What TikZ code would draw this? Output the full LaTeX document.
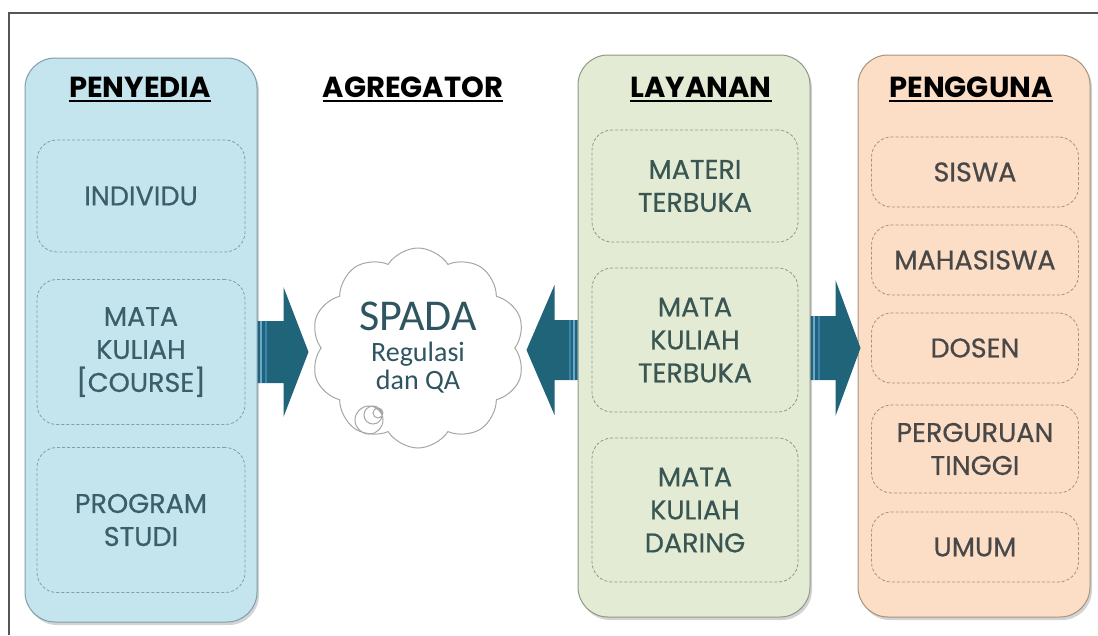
\documentclass[tikz,border=0pt]{standalone}
\usepackage{fontspec}
\setmainfont{Poppins}
\newfontfamily\cloudfont{Carlito}
\usetikzlibrary{shapes.symbols,shadows}
\definecolor{frameline}{HTML}{555555}
\definecolor{bluefill}{HTML}{C5E5EE}
\definecolor{blueline}{HTML}{7E9FAA}
\definecolor{bluetext}{HTML}{3A5F6A}
\definecolor{greenfill}{HTML}{E4EBD5}
\definecolor{greenline}{HTML}{8C9A88}
\definecolor{greentext}{HTML}{3A5652}
\definecolor{peachfill}{HTML}{FCDDC6}
\definecolor{peachline}{HTML}{A8937F}
\definecolor{peachtext}{HTML}{484848}
\definecolor{arrowcol}{HTML}{1F6479}
\definecolor{stripelight}{HTML}{6FA8CF}
\definecolor{stripedark}{HTML}{3C82AE}
\definecolor{cloudtext}{HTML}{2F5561}
\tikzset{
  column/.style = {rounded corners=30pt, minimum width=232pt, line width=1pt,
    drop shadow={opacity=0.35, shadow xshift=2pt, shadow yshift=-3pt}},
  item/.style = {draw=#1, densely dashed, line width=0.8pt, rounded corners=20pt,
    align=center, font=\fontsize{27}{33}\selectfont\addfontfeature{FakeBold=0.6}},
  title/.style = {anchor=base, inner sep=0pt, font=\fontsize{29}{33}\selectfont\bfseries},
  stripe/.style = {line width=2pt}
}

\begin{document}
\begin{tikzpicture}[x=1pt,y=-1pt]
  \useasboundingbox (0,0) rectangle (1098,635);
  \draw[frameline, line width=1.5pt] (9,635) -- (9,13) -- (1098,13);

  \node[column, fill=bluefill, draw=blueline, minimum height=564pt] (penyedia) at (141,340) {};
  \node[column, fill=greenfill, draw=greenline, minimum height=562pt] (layanan) at (694,336) {};
  \node[column, fill=peachfill, draw=peachline, minimum height=562pt] (pengguna) at (974,336) {};

  \node[title] (tpenyedia) at (140,97) {PENYEDIA};
  \node[title] (tagregator) at (413,97) {AGREGATOR};
  \node[title] (tlayanan) at (701,97) {LAYANAN};
  \node[title] (tpengguna) at (971,97) {PENGGUNA};
  \foreach \t in {tpenyedia,tagregator,tlayanan,tpengguna}
    \draw[line width=2pt] ([yshift=-4pt]\t.base west) -- ([yshift=-4pt]\t.base east);

  \node[item=blueline, text=bluetext, minimum width=208pt, minimum height=112pt] (individu) at (141,196) {INDIVIDU};
  \node[item=blueline, text=bluetext, minimum width=208pt, minimum height=145pt] (course) at (141,352) {MATA\\KULIAH\\{[COURSE]}};
  \node[item=blueline, text=bluetext, minimum width=208pt, minimum height=145pt] (prodi) at (141,520) {PROGRAM\\STUDI};

  \node[item=greenline, text=greentext, minimum width=206pt, minimum height=112pt] (materi) at (695,186) {MATERI\\TERBUKA};
  \node[item=greenline, text=greentext, minimum width=206pt, minimum height=144pt] (mkterbuka) at (695,340) {MATA\\KULIAH\\TERBUKA};
  \node[item=greenline, text=greentext, minimum width=206pt, minimum height=144pt] (mkdaring) at (695,510) {MATA\\KULIAH\\DARING};

  \node[item=peachline, text=peachtext, minimum width=207pt, minimum height=70pt] (siswa) at (975,172) {SISWA};
  \node[item=peachline, text=peachtext, minimum width=207pt, minimum height=70pt] (mahasiswa) at (975,260) {MAHASISWA};
  \node[item=peachline, text=peachtext, minimum width=207pt, minimum height=70pt] (dosen) at (975,348) {DOSEN};
  \node[item=peachline, text=peachtext, minimum width=207pt, minimum height=88pt] (pt) at (975,449) {PERGURUAN\\TINGGI};
  \node[item=peachline, text=peachtext, minimum width=207pt, minimum height=70pt] (umum) at (975,547) {UMUM};

  \node[cloud, cloud puffs=10, cloud puff arc=115, aspect=1.1, draw=gray!70, fill=white, line width=1pt,
    minimum width=214pt, minimum height=200pt, text=cloudtext, align=center, inner sep=0pt,
    font=\cloudfont\fontsize{28}{28}\selectfont] (spada) at (418,348)
    {{\fontsize{44}{44}\selectfont SPADA}\\[3pt]Regulasi\\dan QA};
  \draw[gray!70, line width=1pt] (378,413) circle (5) (373,415) circle (9) (369,420) circle (14);

  \fill[arrowcol] (penyedia.east |- 0,321) -- ++(26,0) -- ++(0,-34) -- ++(25,65) -- ++(-25,65) -- ++(0,-34) -- ++(-26,0) -- cycle;
  \draw[stripelight, stripe] (penyedia.east |- 0,321) ++(3,0) -- ++(0,62);
  \draw[stripedark, stripe] (penyedia.east |- 0,321) ++(8,0) -- ++(0,62);

  \fill[arrowcol] (layanan.west |- 0,320) -- ++(-23,0) -- ++(0,-35) -- ++(-28,65) -- ++(28,65) -- ++(0,-35) -- ++(23,0) -- cycle;
  \draw[stripelight, stripe] (layanan.west |- 0,320) ++(-4,0) -- ++(0,60);
  \draw[stripedark, stripe] (layanan.west |- 0,320) ++(-8,0) -- ++(0,60);

  \fill[arrowcol] (layanan.east |- 0,316) -- ++(25,0) -- ++(0,-36) -- ++(25,68) -- ++(-25,68) -- ++(0,-36) -- ++(-25,0) -- cycle;
  \draw[stripelight, stripe] (layanan.east |- 0,316) ++(3,0) -- ++(0,64);
  \draw[stripedark, stripe] (layanan.east |- 0,316) ++(8,0) -- ++(0,64);
\end{tikzpicture}
\end{document}
